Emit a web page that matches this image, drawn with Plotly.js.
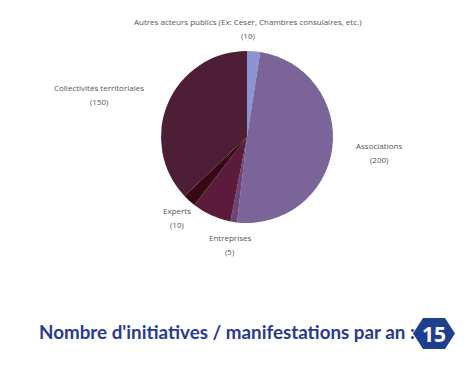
<!DOCTYPE html>
<html>
<head>
<meta charset="utf-8">
<script src="https://cdn.plot.ly/plotly-3.0.1.min.js"></script>
<style>html,body{margin:0;padding:0;background:#fff;}#chart{width:470px;height:369px;}</style>
</head>
<body>
<div id="chart"></div>
<script>
// Data
const categories = ["Autres acteurs publics (Ex: Ceser, Chambres consulaires, etc.)", "Associations", "Entreprises", "Autres", "Experts", "Collectivités territoriales"];
const values = [10, 200, 5, 30, 10, 150];
const showLabel = [true, true, true, false, true, true];
const sliceColors = ["#8b95d4", "#7a6498", "#6d4478", "#5b1c3b", "#370714", "#4d1e36"];
const headline = "Nombre d'initiatives / manifestations par an :";
const headlineValue = 15;

// Label placement (pixels, top-left origin) — layout only
const labelX = [248, 379, 230, 0, 177, 99];
const labelY = [22, 145, 237, 0, 210, 88];

const W = 470, H = 369;
const px = x => x / W, py = y => 1 - y / H;

const cx = 247, cy = 137, r = 86;
const trace = {
  type: "pie",
  labels: categories,
  values: values,
  sort: false,
  direction: "clockwise",
  rotation: 0,
  marker: {colors: sliceColors, line: {width: 0}},
  textinfo: "none",
  hoverinfo: "label+value",
  showlegend: false,
  domain: {x: [px(cx - r), px(cx + r)], y: [py(cy + r), py(cy - r)]}
};

const hx = [413, 423, 445, 455, 445, 423], hy = [333.5, 318, 318, 333.5, 349, 349];
let path = "";
hx.forEach((x, i) => { path += (i === 0 ? "M" : "L") + px(x).toFixed(4) + "," + py(hy[i]).toFixed(4) + " "; });
path += "Z";

const labelFont = {family: "Open Sans", size: 8, color: "#555"};
const annotations = [];
categories.forEach((c, i) => {
  if (!showLabel[i]) return;
  annotations.push({text: c, xref: "paper", yref: "paper", x: px(labelX[i]), y: py(labelY[i]), xanchor: "center", yanchor: "middle", showarrow: false, font: labelFont});
  annotations.push({text: "(" + values[i] + ")", xref: "paper", yref: "paper", x: px(labelX[i]), y: py(labelY[i] + 14), xanchor: "center", yanchor: "middle", showarrow: false, font: labelFont});
});
annotations.push({text: "<b>" + headline + "</b>", xref: "paper", yref: "paper", x: px(37), y: py(331), xanchor: "left", yanchor: "middle", showarrow: false,
  font: {family: "Lato", size: 18.8, color: "#2a3a8e"}});
annotations.push({text: "<b>" + headlineValue + "</b>", xref: "paper", yref: "paper", x: px(434), y: py(334), xanchor: "center", yanchor: "middle", showarrow: false,
  font: {family: "Open Sans", size: 21, color: "#ffffff"}});

const layout = {
  width: W, height: H,
  margin: {l: 0, r: 0, t: 0, b: 0},
  paper_bgcolor: "#fff",
  plot_bgcolor: "#fff",
  showlegend: false,
  shapes: [{type: "path", xref: "paper", yref: "paper", path: path, fillcolor: "#1e3f8f", line: {width: 0}}],
  annotations: annotations
};

Plotly.newPlot("chart", [trace], layout, {displayModeBar: false, staticPlot: true});
</script>
</body>
</html>
